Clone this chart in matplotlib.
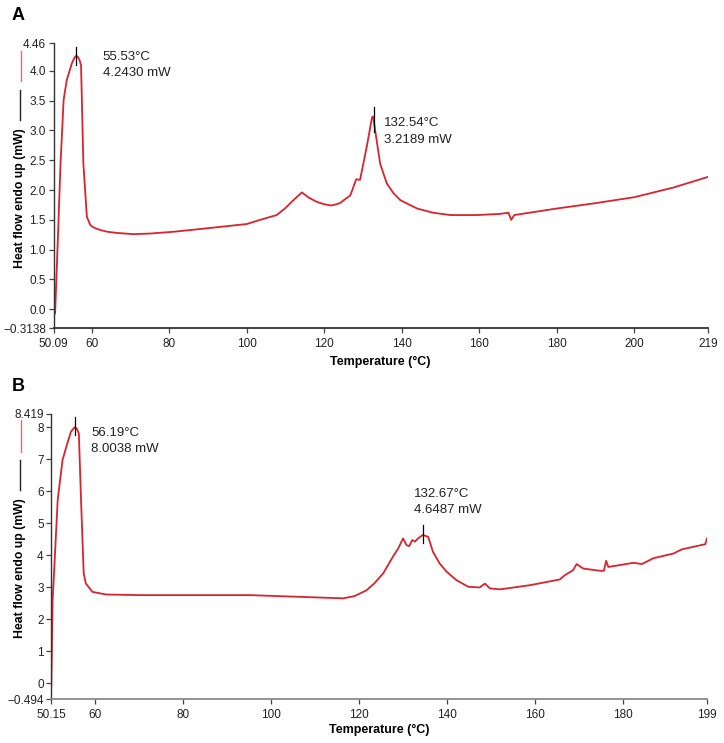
import matplotlib
matplotlib.use('Agg')
import matplotlib.pyplot as plt
from matplotlib.lines import Line2D

plt.rcParams['font.family'] = ['Liberation Sans', 'DejaVu Sans']

RED = '#d9232d'

# Panel A - DSC trace
temp_a = [50.09, 50.5, 51.3, 51.9, 52.7, 53.5, 54.8, 55.5, 55.95, 56.4, 56.8, 57.2, 57.8,
          58.7, 59.6, 60.5, 62.1, 64.0, 66.5, 70.7, 75.0, 81.1, 90.0, 100.0, 103.4,
          107.7, 110.0, 112.0, 114.2, 116.0, 118.1, 120.0, 121.9, 124.0, 126.7, 128.2,
          129.2, 129.7, 131.0, 132.3, 132.6, 133.1, 134.4, 136.1, 137.8, 139.6, 143.9,
          148.0, 152.5, 159.4, 165.4, 167.5, 168.2, 169.0, 180.0, 190.0, 200.0, 210.0,
          219.0]
heat_a = [-0.10, -0.07, 1.33, 2.44, 3.51, 3.84, 4.12, 4.22, 4.25, 4.23, 4.18, 4.09, 2.44,
          1.55, 1.41, 1.37, 1.33, 1.30, 1.28, 1.26, 1.27, 1.30, 1.36, 1.43, 1.50,
          1.58, 1.70, 1.83, 1.96, 1.87, 1.80, 1.76, 1.74, 1.78, 1.91, 2.18,
          2.17, 2.33, 2.75, 3.22, 3.23, 3.00, 2.44, 2.11, 1.95, 1.83, 1.69,
          1.62, 1.58, 1.58, 1.60, 1.62, 1.50, 1.58, 1.69, 1.78, 1.88, 2.04,
          2.22]

# Panel B - DSC trace
temp_b = [50.15, 50.45, 50.84, 51.6, 52.7, 53.9, 54.6, 55.4, 55.9, 56.4, 56.9, 57.5,
          58.0, 59.5, 62.6, 70.2, 95.2, 116.4, 119.0, 121.7, 123.5, 125.5, 127.7,
          128.9, 130.0, 130.8, 131.4, 132.1, 132.7, 133.4, 134.5, 135.7, 136.8,
          138.3, 139.9, 142.1, 144.8, 147.4, 148.6, 149.7, 152.0, 158.8, 165.6,
          166.7, 168.6, 169.4, 170.9, 174.7, 175.6, 176.1, 176.6, 179.3, 182.3,
          184.2, 186.8, 191.4, 193.3, 198.6, 199.0]
heat_b = [-0.10, 2.60, 3.63, 5.72, 6.97, 7.54, 7.85, 7.99, 7.96, 7.80, 5.72, 3.43,
          3.11, 2.85, 2.77, 2.75, 2.75, 2.65, 2.72, 2.90, 3.12, 3.43, 3.95,
          4.21, 4.52, 4.31, 4.28, 4.47, 4.42, 4.52, 4.63, 4.57, 4.10,
          3.74, 3.48, 3.22, 3.01, 2.99, 3.11, 2.96, 2.93, 3.06, 3.24,
          3.37, 3.53, 3.72, 3.58, 3.51, 3.51, 3.82, 3.63, 3.69, 3.76,
          3.72, 3.90, 4.05, 4.18, 4.34, 4.52]

# peak markers (x position, y bottom, y top) and labels
peaks_a = [(55.95, 4.09, 4.40), (132.85, 2.97, 3.39)]
peak_text_a = [('55.53°C', '4.2430 mW'), ('132.54°C', '3.2189 mW')]
peaks_b = [(55.6, 7.75, 8.32), (134.5, 4.37, 4.94)]
peak_text_b = [('56.19°C', '8.0038 mW'), ('132.67°C', '4.6487 mW')]

xticks_a = [50.09, 60, 80, 100, 120, 140, 160, 180, 200, 219]
xtlabels_a = ['50.09', '60', '80', '100', '120', '140', '160', '180', '200', '219']
yticks_a = [-0.3138, 0.0, 0.5, 1.0, 1.5, 2.0, 2.5, 3.0, 3.5, 4.0, 4.46]
ytlabels_a = ['\u22120.3138', '0.0', '0.5', '1.0', '1.5', '2.0', '2.5', '3.0', '3.5', '4.0', '4.46']

xticks_b = [50.15, 60, 80, 100, 120, 140, 160, 180, 199]
xtlabels_b = ['50.15', '60', '80', '100', '120', '140', '160', '180', '199']
yticks_b = [-0.494, 0, 1, 2, 3, 4, 5, 6, 7, 8, 8.419]
ytlabels_b = ['\u22120.494', '0', '1', '2', '3', '4', '5', '6', '7', '8', '8.419']

fig = plt.figure(figsize=(7.24, 7.43), dpi=100)
W, H = 724.0, 743.0


def fx(px):
    return px / W


def fy(py):
    return 1 - py / H


def panel(rect, temp, heat, peaks, texts, text_pos, xt, xtl, yt, ytl, bottom_col, lpad):
    ax = fig.add_axes(rect)
    ax.plot(temp, heat, color=RED, lw=1.3)
    for (x, y0, y1) in peaks:
        ax.plot([x, x], [y0, y1], color='black', lw=0.9)
    for (t1, t2), (tx, ty, dy) in zip(texts, text_pos):
        ax.text(tx, ty, t1, fontsize=9.5, color='#222222', va='center')
        ax.text(tx, ty - dy, t2, fontsize=9.5, color='#222222', va='center')
    ax.set_xlim(xt[0], xt[-1])
    ax.set_ylim(yt[0], yt[-1])
    ax.set_xticks(xt)
    ax.set_xticklabels(xtl)
    ax.set_yticks(yt)
    ax.set_yticklabels(ytl)
    for s in ['top', 'right']:
        ax.spines[s].set_visible(False)
    ax.spines['left'].set_color('#333333')
    ax.spines['bottom'].set_color(bottom_col)
    ax.spines['left'].set_linewidth(1.0)
    ax.spines['bottom'].set_linewidth(1.3)
    ax.tick_params(axis='both', labelsize=8.5, length=3.5, width=0.9, color='#444444',
                   labelcolor='#222222', pad=2)
    ax.tick_params(axis='x', pad=4)
    ax.set_xlabel('Temperature (°C)', fontsize=9, fontweight='bold', labelpad=lpad)
    return ax


# Panel A
ax1 = panel([fx(53.5), fy(328), fx(708) - fx(53.5), fy(43.3) - fy(328)],
            temp_a, heat_a, peaks_a, peak_text_a,
            [(62.8, 4.23, 0.26), (135.5, 3.12, 0.28)],
            xticks_a, xtlabels_a, yticks_a, ytlabels_a, '#333333', 4)

# Panel B
ax2 = panel([fx(51.3), fy(699), fx(707) - fx(51.3), fy(413.6) - fy(699)],
            temp_b, heat_b, peaks_b, peak_text_b,
            [(59.2, 7.8, 0.5), (132.5, 5.9, 0.5)],
            xticks_b, xtlabels_b, yticks_b, ytlabels_b, '#8a8a8a', 1.5)

# y labels with the small legend strokes above them
for ycenter, red_seg, blk_seg, letter, ly in [(198, (51, 81), (90, 120), 'A', 15),
                                               (568, (420, 452), (460, 490), 'B', 386)]:
    fig.text(fx(20), fy(ycenter), 'Heat flow endo up (mW)', rotation=90,
             fontsize=8.8, fontweight='bold', ha='center', va='center')
    fig.add_artist(Line2D([fx(21), fx(21)], [fy(red_seg[0]), fy(red_seg[1])],
                          color='#e86a70', lw=1.0, transform=fig.transFigure))
    fig.add_artist(Line2D([fx(20), fx(20)], [fy(blk_seg[0]), fy(blk_seg[1])],
                          color='#222222', lw=1.0, transform=fig.transFigure))
    fig.text(fx(12), fy(ly), letter, fontsize=13, fontweight='bold', ha='left', va='center')

plt.savefig('out.png', dpi=100)
